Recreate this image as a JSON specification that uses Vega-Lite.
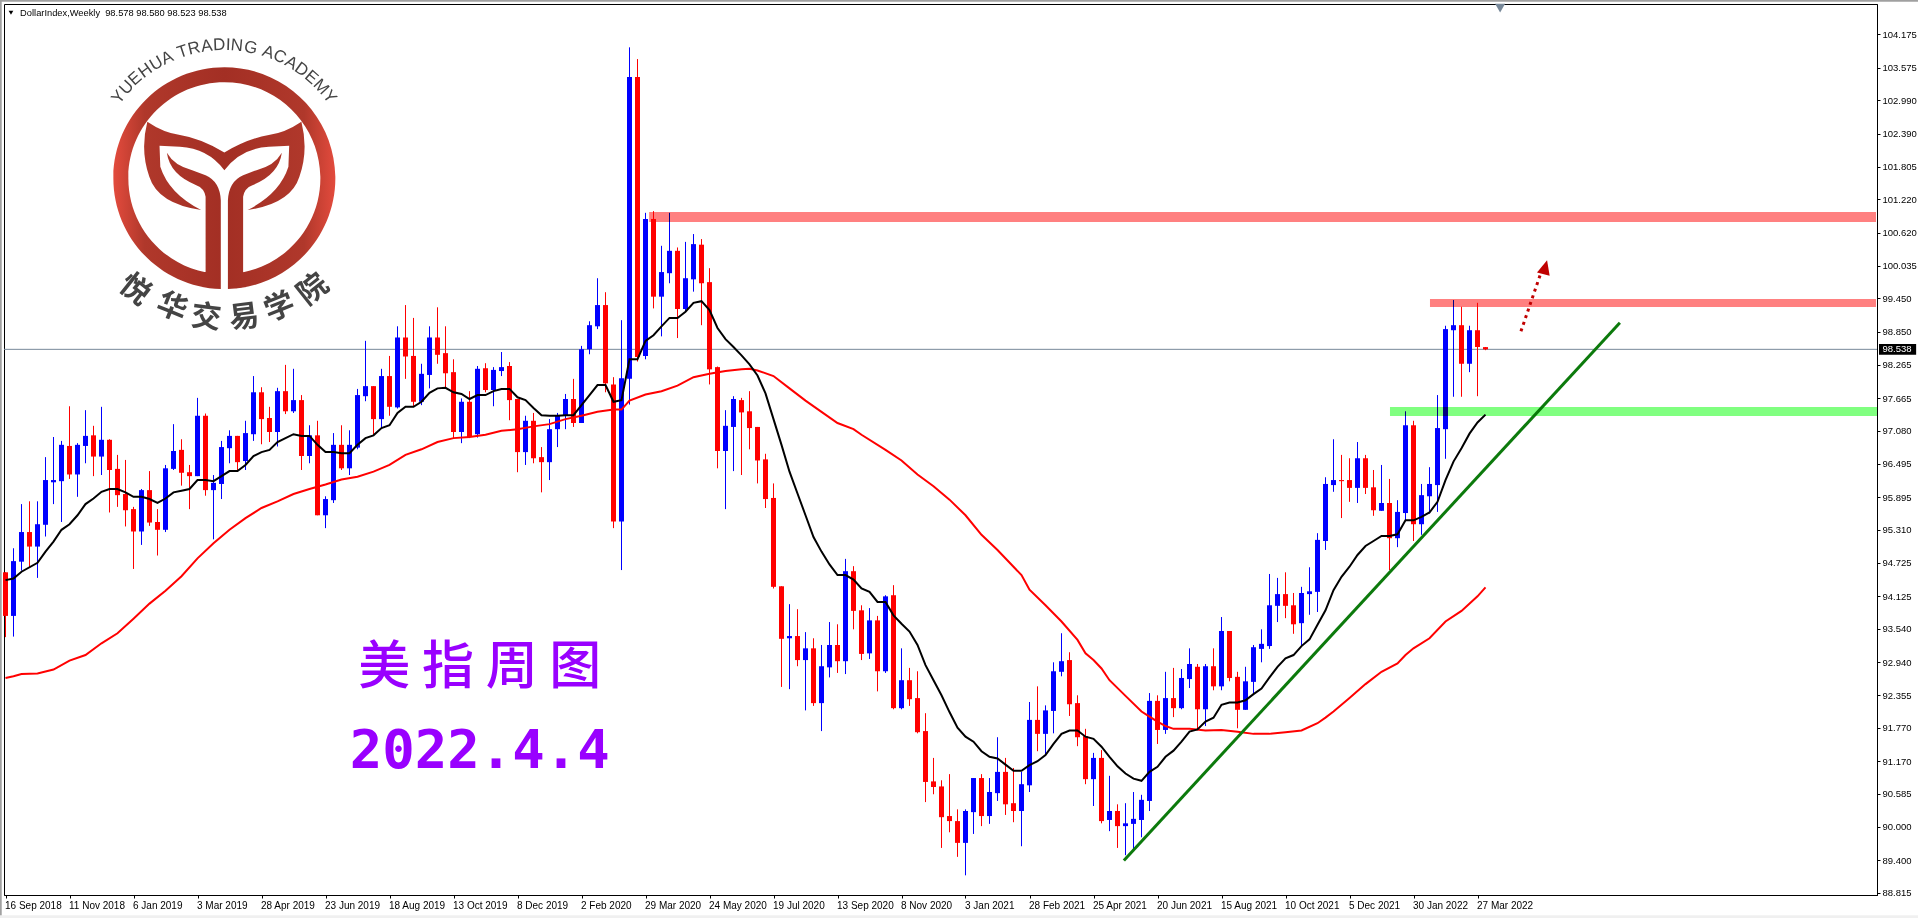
{
  "$schema": "https://vega.github.io/schema/vega-lite/v6.json",
  "autosize": {"type": "none"},
  "padding": {"left": 4, "top": 4, "right": 41, "bottom": 23},
  "width": 1873,
  "height": 891,
  "background": "white",
  "view": {"stroke": "black", "strokeWidth": 1},
  "resolve": {"axis": {"x": "independent", "y": "independent"}},
  "datasets": {
    "candles": [
      {"d":"2018-09-16","o":94.55,"h":94.55,"l":93.39,"c":93.77},
      {"d":"2018-09-23","o":93.77,"h":94.98,"l":93.40,"c":94.75},
      {"d":"2018-09-30","o":94.74,"h":95.77,"l":94.58,"c":95.27},
      {"d":"2018-10-07","o":95.27,"h":95.82,"l":94.64,"c":95.01},
      {"d":"2018-10-14","o":95.01,"h":95.82,"l":94.45,"c":95.41},
      {"d":"2018-10-21","o":95.40,"h":96.61,"l":95.19,"c":96.20},
      {"d":"2018-10-28","o":96.16,"h":96.97,"l":95.77,"c":96.20},
      {"d":"2018-11-04","o":96.18,"h":96.90,"l":95.45,"c":96.83},
      {"d":"2018-11-11","o":96.81,"h":97.52,"l":96.22,"c":96.30},
      {"d":"2018-11-18","o":96.30,"h":96.86,"l":95.90,"c":96.83},
      {"d":"2018-11-25","o":96.81,"h":97.45,"l":96.50,"c":96.99},
      {"d":"2018-12-02","o":97.00,"h":97.17,"l":96.27,"c":96.62},
      {"d":"2018-12-09","o":96.62,"h":97.51,"l":96.29,"c":96.92},
      {"d":"2018-12-16","o":96.92,"h":96.93,"l":95.62,"c":96.38},
      {"d":"2018-12-23","o":96.40,"h":96.65,"l":95.72,"c":95.93},
      {"d":"2018-12-30","o":95.95,"h":96.56,"l":95.37,"c":95.66},
      {"d":"2019-01-06","o":95.68,"h":95.72,"l":94.61,"c":95.28},
      {"d":"2019-01-13","o":95.28,"h":96.04,"l":95.04,"c":96.02},
      {"d":"2019-01-20","o":96.02,"h":96.36,"l":95.38,"c":95.44},
      {"d":"2019-01-27","o":95.45,"h":95.68,"l":94.85,"c":95.31},
      {"d":"2019-02-03","o":95.31,"h":96.47,"l":95.27,"c":96.41},
      {"d":"2019-02-10","o":96.40,"h":97.20,"l":96.38,"c":96.72},
      {"d":"2019-02-17","o":96.74,"h":96.93,"l":96.10,"c":96.33},
      {"d":"2019-02-24","o":96.34,"h":96.47,"l":95.68,"c":96.27},
      {"d":"2019-03-03","o":96.27,"h":97.67,"l":96.27,"c":97.35},
      {"d":"2019-03-10","o":97.35,"h":97.39,"l":95.92,"c":96.02},
      {"d":"2019-03-17","o":96.02,"h":96.29,"l":95.14,"c":96.15},
      {"d":"2019-03-24","o":96.13,"h":96.90,"l":95.86,"c":96.79},
      {"d":"2019-03-31","o":96.77,"h":97.09,"l":96.50,"c":96.99},
      {"d":"2019-04-07","o":96.99,"h":96.99,"l":96.38,"c":96.52},
      {"d":"2019-04-14","o":96.54,"h":97.26,"l":96.38,"c":97.04},
      {"d":"2019-04-21","o":97.02,"h":98.06,"l":96.90,"c":97.77},
      {"d":"2019-04-28","o":97.77,"h":97.86,"l":96.84,"c":97.29},
      {"d":"2019-05-05","o":97.31,"h":97.51,"l":96.88,"c":97.06},
      {"d":"2019-05-12","o":97.06,"h":97.85,"l":96.80,"c":97.79},
      {"d":"2019-05-19","o":97.79,"h":98.26,"l":97.38,"c":97.43},
      {"d":"2019-05-26","o":97.43,"h":98.19,"l":97.40,"c":97.63},
      {"d":"2019-06-02","o":97.63,"h":97.72,"l":96.38,"c":96.63},
      {"d":"2019-06-09","o":96.63,"h":97.18,"l":96.50,"c":97.00},
      {"d":"2019-06-16","o":97.00,"h":97.26,"l":95.57,"c":95.57},
      {"d":"2019-06-23","o":95.57,"h":95.91,"l":95.34,"c":95.86},
      {"d":"2019-06-30","o":95.84,"h":97.04,"l":95.79,"c":96.83},
      {"d":"2019-07-07","o":96.83,"h":97.18,"l":96.38,"c":96.41},
      {"d":"2019-07-14","o":96.41,"h":97.09,"l":96.29,"c":96.83},
      {"d":"2019-07-21","o":96.78,"h":97.83,"l":96.75,"c":97.72},
      {"d":"2019-07-28","o":97.70,"h":98.69,"l":97.61,"c":97.88},
      {"d":"2019-08-04","o":97.88,"h":97.88,"l":97.02,"c":97.29},
      {"d":"2019-08-11","o":97.29,"h":98.19,"l":97.13,"c":98.06},
      {"d":"2019-08-18","o":98.06,"h":98.42,"l":97.35,"c":97.51},
      {"d":"2019-08-25","o":97.50,"h":98.95,"l":97.48,"c":98.75},
      {"d":"2019-09-01","o":98.75,"h":99.33,"l":98.01,"c":98.41},
      {"d":"2019-09-08","o":98.42,"h":99.10,"l":97.51,"c":97.60},
      {"d":"2019-09-15","o":97.60,"h":98.28,"l":97.54,"c":98.10},
      {"d":"2019-09-22","o":98.08,"h":98.95,"l":97.84,"c":98.75},
      {"d":"2019-09-29","o":98.75,"h":99.29,"l":98.28,"c":98.44},
      {"d":"2019-10-06","o":98.47,"h":98.95,"l":97.84,"c":98.11},
      {"d":"2019-10-13","o":98.13,"h":98.36,"l":96.95,"c":97.06},
      {"d":"2019-10-20","o":97.06,"h":97.66,"l":96.86,"c":97.60},
      {"d":"2019-10-27","o":97.60,"h":97.79,"l":96.95,"c":96.97},
      {"d":"2019-11-03","o":97.02,"h":98.24,"l":96.96,"c":98.19},
      {"d":"2019-11-10","o":98.20,"h":98.29,"l":97.77,"c":97.81},
      {"d":"2019-11-17","o":97.81,"h":98.22,"l":97.52,"c":98.17},
      {"d":"2019-11-24","o":98.15,"h":98.49,"l":98.06,"c":98.22},
      {"d":"2019-12-01","o":98.24,"h":98.31,"l":97.27,"c":97.63},
      {"d":"2019-12-08","o":97.65,"h":97.65,"l":96.34,"c":96.70},
      {"d":"2019-12-15","o":96.70,"h":97.35,"l":96.47,"c":97.26},
      {"d":"2019-12-22","o":97.26,"h":97.40,"l":96.50,"c":96.59},
      {"d":"2019-12-29","o":96.61,"h":96.79,"l":95.98,"c":96.52},
      {"d":"2020-01-05","o":96.52,"h":97.29,"l":96.20,"c":97.11},
      {"d":"2020-01-12","o":97.11,"h":97.40,"l":96.79,"c":97.35},
      {"d":"2020-01-19","o":97.36,"h":97.74,"l":97.11,"c":97.65},
      {"d":"2020-01-26","o":97.65,"h":98.01,"l":97.15,"c":97.22},
      {"d":"2020-02-02","o":97.22,"h":98.60,"l":97.22,"c":98.54},
      {"d":"2020-02-09","o":98.54,"h":99.04,"l":98.45,"c":98.97},
      {"d":"2020-02-16","o":98.95,"h":99.81,"l":98.90,"c":99.33},
      {"d":"2020-02-23","o":99.33,"h":99.56,"l":97.77,"c":97.93},
      {"d":"2020-03-01","o":97.91,"h":98.04,"l":95.34,"c":95.46},
      {"d":"2020-03-08","o":95.46,"h":99.06,"l":94.59,"c":98.02},
      {"d":"2020-03-15","o":98.01,"h":103.94,"l":97.55,"c":103.41},
      {"d":"2020-03-22","o":103.41,"h":103.73,"l":98.32,"c":98.40},
      {"d":"2020-03-29","o":98.42,"h":100.98,"l":98.36,"c":100.87},
      {"d":"2020-04-05","o":100.87,"h":101.01,"l":99.27,"c":99.48},
      {"d":"2020-04-12","o":99.48,"h":100.39,"l":98.77,"c":99.92},
      {"d":"2020-04-19","o":99.90,"h":100.98,"l":99.72,"c":100.30},
      {"d":"2020-04-26","o":100.30,"h":100.36,"l":98.74,"c":99.26},
      {"d":"2020-05-03","o":99.26,"h":100.46,"l":99.21,"c":99.81},
      {"d":"2020-05-10","o":99.79,"h":100.60,"l":99.57,"c":100.42},
      {"d":"2020-05-17","o":100.41,"h":100.51,"l":98.97,"c":99.72},
      {"d":"2020-05-24","o":99.74,"h":99.99,"l":97.91,"c":98.18},
      {"d":"2020-05-31","o":98.22,"h":98.23,"l":96.41,"c":96.72},
      {"d":"2020-06-07","o":96.72,"h":97.45,"l":95.68,"c":97.17},
      {"d":"2020-06-14","o":97.15,"h":97.70,"l":96.36,"c":97.65},
      {"d":"2020-06-21","o":97.63,"h":97.67,"l":96.29,"c":97.41},
      {"d":"2020-06-28","o":97.43,"h":97.79,"l":96.75,"c":97.13},
      {"d":"2020-07-05","o":97.15,"h":97.15,"l":96.14,"c":96.55},
      {"d":"2020-07-12","o":96.57,"h":96.67,"l":95.70,"c":95.86},
      {"d":"2020-07-19","o":95.88,"h":96.14,"l":94.26,"c":94.29},
      {"d":"2020-07-26","o":94.30,"h":94.30,"l":92.50,"c":93.36},
      {"d":"2020-08-02","o":93.37,"h":93.98,"l":92.46,"c":93.41},
      {"d":"2020-08-09","o":93.41,"h":93.89,"l":92.87,"c":92.98},
      {"d":"2020-08-16","o":92.98,"h":93.48,"l":92.08,"c":93.19},
      {"d":"2020-08-23","o":93.19,"h":93.37,"l":92.16,"c":92.21},
      {"d":"2020-08-30","o":92.21,"h":93.25,"l":91.71,"c":92.87},
      {"d":"2020-09-06","o":92.85,"h":93.66,"l":92.67,"c":93.25},
      {"d":"2020-09-13","o":93.25,"h":93.62,"l":92.75,"c":92.96},
      {"d":"2020-09-20","o":92.96,"h":94.79,"l":92.73,"c":94.57},
      {"d":"2020-09-27","o":94.57,"h":94.66,"l":93.53,"c":93.86},
      {"d":"2020-10-04","o":93.87,"h":93.96,"l":92.98,"c":93.09},
      {"d":"2020-10-11","o":93.10,"h":93.91,"l":93.00,"c":93.69},
      {"d":"2020-10-18","o":93.69,"h":93.77,"l":92.42,"c":92.78},
      {"d":"2020-10-25","o":92.78,"h":94.14,"l":92.75,"c":94.12},
      {"d":"2020-11-01","o":94.14,"h":94.32,"l":92.10,"c":92.12},
      {"d":"2020-11-08","o":92.12,"h":93.19,"l":92.10,"c":92.62},
      {"d":"2020-11-15","o":92.62,"h":92.84,"l":92.16,"c":92.28},
      {"d":"2020-11-22","o":92.30,"h":92.78,"l":91.67,"c":91.69},
      {"d":"2020-11-29","o":91.71,"h":92.03,"l":90.44,"c":90.80},
      {"d":"2020-12-06","o":90.81,"h":91.23,"l":90.58,"c":90.71},
      {"d":"2020-12-13","o":90.72,"h":90.83,"l":89.62,"c":90.17},
      {"d":"2020-12-20","o":90.19,"h":90.94,"l":89.90,"c":90.10},
      {"d":"2020-12-27","o":90.10,"h":90.31,"l":89.46,"c":89.71},
      {"d":"2021-01-03","o":89.71,"h":90.31,"l":89.13,"c":90.28},
      {"d":"2021-01-10","o":90.26,"h":90.87,"l":89.87,"c":90.87},
      {"d":"2021-01-17","o":90.87,"h":90.94,"l":90.01,"c":90.19},
      {"d":"2021-01-24","o":90.19,"h":90.87,"l":90.05,"c":90.62},
      {"d":"2021-01-31","o":90.60,"h":91.60,"l":90.46,"c":90.98},
      {"d":"2021-02-07","o":90.98,"h":91.23,"l":90.21,"c":90.40},
      {"d":"2021-02-14","o":90.42,"h":91.05,"l":90.08,"c":90.28},
      {"d":"2021-02-21","o":90.28,"h":90.98,"l":89.65,"c":90.76},
      {"d":"2021-02-28","o":90.74,"h":92.23,"l":90.62,"c":91.91},
      {"d":"2021-03-07","o":91.91,"h":92.51,"l":91.35,"c":91.66},
      {"d":"2021-03-14","o":91.66,"h":92.17,"l":91.28,"c":92.08},
      {"d":"2021-03-21","o":92.07,"h":92.94,"l":91.67,"c":92.78},
      {"d":"2021-03-28","o":92.77,"h":93.46,"l":92.69,"c":92.96},
      {"d":"2021-04-04","o":92.98,"h":93.12,"l":91.98,"c":92.19},
      {"d":"2021-04-11","o":92.21,"h":92.35,"l":91.44,"c":91.60},
      {"d":"2021-04-18","o":91.62,"h":91.75,"l":90.76,"c":90.85},
      {"d":"2021-04-25","o":90.85,"h":91.32,"l":90.37,"c":91.23},
      {"d":"2021-05-02","o":91.23,"h":91.37,"l":90.06,"c":90.10},
      {"d":"2021-05-09","o":90.12,"h":90.91,"l":89.92,"c":90.28},
      {"d":"2021-05-16","o":90.28,"h":90.40,"l":89.62,"c":90.01},
      {"d":"2021-05-23","o":90.01,"h":90.42,"l":89.49,"c":90.06},
      {"d":"2021-05-30","o":90.05,"h":90.62,"l":89.58,"c":90.14},
      {"d":"2021-06-06","o":90.12,"h":90.57,"l":89.81,"c":90.48},
      {"d":"2021-06-13","o":90.46,"h":92.39,"l":90.28,"c":92.25},
      {"d":"2021-06-20","o":92.25,"h":92.35,"l":91.48,"c":91.73},
      {"d":"2021-06-27","o":91.73,"h":92.77,"l":91.66,"c":92.30},
      {"d":"2021-07-04","o":92.30,"h":92.84,"l":91.96,"c":92.12},
      {"d":"2021-07-11","o":92.12,"h":92.82,"l":92.10,"c":92.66},
      {"d":"2021-07-18","o":92.64,"h":93.19,"l":92.48,"c":92.91},
      {"d":"2021-07-25","o":92.86,"h":92.91,"l":91.73,"c":92.10},
      {"d":"2021-08-01","o":92.10,"h":92.91,"l":91.80,"c":92.87},
      {"d":"2021-08-08","o":92.87,"h":93.19,"l":92.44,"c":92.51},
      {"d":"2021-08-15","o":92.51,"h":93.75,"l":92.44,"c":93.50},
      {"d":"2021-08-22","o":93.50,"h":93.50,"l":92.60,"c":92.66},
      {"d":"2021-08-29","o":92.68,"h":92.77,"l":91.76,"c":92.09},
      {"d":"2021-09-05","o":92.09,"h":92.86,"l":92.09,"c":92.60},
      {"d":"2021-09-12","o":92.59,"h":93.25,"l":92.39,"c":93.21},
      {"d":"2021-09-19","o":93.18,"h":93.53,"l":92.94,"c":93.27},
      {"d":"2021-09-26","o":93.23,"h":94.52,"l":93.18,"c":93.96},
      {"d":"2021-10-03","o":93.95,"h":94.45,"l":93.66,"c":94.16},
      {"d":"2021-10-10","o":94.16,"h":94.55,"l":93.73,"c":93.95},
      {"d":"2021-10-17","o":93.96,"h":94.18,"l":93.45,"c":93.62},
      {"d":"2021-10-24","o":93.64,"h":94.29,"l":93.23,"c":94.18},
      {"d":"2021-10-31","o":94.16,"h":94.64,"l":93.79,"c":94.21},
      {"d":"2021-11-07","o":94.20,"h":95.25,"l":93.84,"c":95.13},
      {"d":"2021-11-14","o":95.11,"h":96.25,"l":94.95,"c":96.13},
      {"d":"2021-11-21","o":96.11,"h":96.93,"l":95.99,"c":96.20},
      {"d":"2021-11-28","o":96.20,"h":96.65,"l":95.52,"c":96.18},
      {"d":"2021-12-05","o":96.20,"h":96.59,"l":95.81,"c":96.06},
      {"d":"2021-12-12","o":96.06,"h":96.88,"l":95.79,"c":96.59},
      {"d":"2021-12-19","o":96.59,"h":96.65,"l":95.95,"c":96.06},
      {"d":"2021-12-26","o":96.07,"h":96.38,"l":95.56,"c":95.66},
      {"d":"2022-01-02","o":95.65,"h":96.47,"l":95.65,"c":95.79},
      {"d":"2022-01-09","o":95.79,"h":96.22,"l":94.59,"c":95.16},
      {"d":"2022-01-16","o":95.16,"h":95.84,"l":95.00,"c":95.63},
      {"d":"2022-01-23","o":95.61,"h":97.43,"l":95.48,"c":97.18},
      {"d":"2022-01-30","o":97.18,"h":97.26,"l":95.11,"c":95.41},
      {"d":"2022-02-06","o":95.41,"h":96.13,"l":95.22,"c":95.93},
      {"d":"2022-02-13","o":95.91,"h":96.43,"l":95.60,"c":96.13},
      {"d":"2022-02-20","o":96.11,"h":97.72,"l":95.63,"c":97.13},
      {"d":"2022-02-27","o":97.11,"h":98.96,"l":96.58,"c":98.90},
      {"d":"2022-03-06","o":98.88,"h":99.42,"l":97.69,"c":98.97},
      {"d":"2022-03-13","o":98.97,"h":99.30,"l":97.69,"c":98.28},
      {"d":"2022-03-20","o":98.28,"h":98.96,"l":98.13,"c":98.88},
      {"d":"2022-03-27","o":98.88,"h":99.37,"l":97.70,"c":98.58},
      {"d":"2022-04-03","o":98.578,"h":98.580,"l":98.523,"c":98.538}
    ],
    "fast": [
      {"d":"2018-09-16","p":94.41},{"d":"2018-09-23","p":94.44},{"d":"2018-09-30","p":94.56},{"d":"2018-10-14","p":94.72},{"d":"2018-10-21","p":94.92},{"d":"2018-10-28","p":95.10},{"d":"2018-11-04","p":95.31},{"d":"2018-11-11","p":95.41},{"d":"2018-11-18","p":95.57},{"d":"2018-11-25","p":95.77},{"d":"2018-12-02","p":95.87},{"d":"2018-12-09","p":95.99},{"d":"2018-12-16","p":96.04},{"d":"2018-12-23","p":96.04},{"d":"2018-12-30","p":95.98},{"d":"2019-01-06","p":95.90},{"d":"2019-01-13","p":95.90},{"d":"2019-01-20","p":95.86},{"d":"2019-01-27","p":95.79},{"d":"2019-02-03","p":95.87},{"d":"2019-02-10","p":95.98},{"d":"2019-02-17","p":96.01},{"d":"2019-02-24","p":96.04},{"d":"2019-03-03","p":96.20},{"d":"2019-03-10","p":96.20},{"d":"2019-03-17","p":96.18},{"d":"2019-03-24","p":96.27},{"d":"2019-03-31","p":96.36},{"d":"2019-04-07","p":96.36},{"d":"2019-04-14","p":96.47},{"d":"2019-04-21","p":96.63},{"d":"2019-04-28","p":96.70},{"d":"2019-05-05","p":96.74},{"d":"2019-05-12","p":96.88},{"d":"2019-05-19","p":96.95},{"d":"2019-05-26","p":97.02},{"d":"2019-06-02","p":96.99},{"d":"2019-06-09","p":96.99},{"d":"2019-06-16","p":96.83},{"d":"2019-06-23","p":96.70},{"d":"2019-06-30","p":96.70},{"d":"2019-07-07","p":96.68},{"d":"2019-07-14","p":96.68},{"d":"2019-07-21","p":96.83},{"d":"2019-07-28","p":96.95},{"d":"2019-08-04","p":97.00},{"d":"2019-08-11","p":97.13},{"d":"2019-08-18","p":97.18},{"d":"2019-08-25","p":97.40},{"d":"2019-09-01","p":97.51},{"d":"2019-09-08","p":97.51},{"d":"2019-09-15","p":97.60},{"d":"2019-09-22","p":97.76},{"d":"2019-09-29","p":97.84},{"d":"2019-10-06","p":97.85},{"d":"2019-10-13","p":97.77},{"d":"2019-10-20","p":97.74},{"d":"2019-10-27","p":97.65},{"d":"2019-11-03","p":97.72},{"d":"2019-11-10","p":97.72},{"d":"2019-11-17","p":97.79},{"d":"2019-11-24","p":97.83},{"d":"2019-12-01","p":97.83},{"d":"2019-12-08","p":97.68},{"d":"2019-12-15","p":97.63},{"d":"2019-12-22","p":97.49},{"d":"2019-12-29","p":97.36},{"d":"2020-01-05","p":97.35},{"d":"2020-01-12","p":97.35},{"d":"2020-01-19","p":97.36},{"d":"2020-01-26","p":97.36},{"d":"2020-02-02","p":97.54},{"d":"2020-02-09","p":97.72},{"d":"2020-02-16","p":97.90},{"d":"2020-02-23","p":97.90},{"d":"2020-03-01","p":97.60},{"d":"2020-03-08","p":97.63},{"d":"2020-03-15","p":98.36},{"d":"2020-03-22","p":98.36},{"d":"2020-03-29","p":98.69},{"d":"2020-04-05","p":98.79},{"d":"2020-04-12","p":98.95},{"d":"2020-04-19","p":99.10},{"d":"2020-04-26","p":99.10},{"d":"2020-05-03","p":99.21},{"d":"2020-05-10","p":99.37},{"d":"2020-05-17","p":99.40},{"d":"2020-05-24","p":99.24},{"d":"2020-05-31","p":98.92},{"d":"2020-06-07","p":98.72},{"d":"2020-06-14","p":98.58},{"d":"2020-06-21","p":98.43},{"d":"2020-06-28","p":98.27},{"d":"2020-07-05","p":98.07},{"d":"2020-07-12","p":97.75},{"d":"2020-07-19","p":97.29},{"d":"2020-07-26","p":96.83},{"d":"2020-08-02","p":96.35},{"d":"2020-08-09","p":95.96},{"d":"2020-08-16","p":95.57},{"d":"2020-08-23","p":95.18},{"d":"2020-08-30","p":94.92},{"d":"2020-09-06","p":94.69},{"d":"2020-09-13","p":94.50},{"d":"2020-09-20","p":94.50},{"d":"2020-09-27","p":94.42},{"d":"2020-10-04","p":94.26},{"d":"2020-10-11","p":94.20},{"d":"2020-10-18","p":94.02},{"d":"2020-10-25","p":94.02},{"d":"2020-11-01","p":93.78},{"d":"2020-11-08","p":93.63},{"d":"2020-11-15","p":93.49},{"d":"2020-11-22","p":93.25},{"d":"2020-11-29","p":92.89},{"d":"2020-12-06","p":92.62},{"d":"2020-12-13","p":92.35},{"d":"2020-12-20","p":92.05},{"d":"2020-12-27","p":91.77},{"d":"2021-01-03","p":91.61},{"d":"2021-01-10","p":91.52},{"d":"2021-01-17","p":91.35},{"d":"2021-01-24","p":91.25},{"d":"2021-01-31","p":91.22},{"d":"2021-02-07","p":91.11},{"d":"2021-02-14","p":91.00},{"d":"2021-02-21","p":91.00},{"d":"2021-02-28","p":91.10},{"d":"2021-03-07","p":91.17},{"d":"2021-03-14","p":91.28},{"d":"2021-03-21","p":91.48},{"d":"2021-03-28","p":91.66},{"d":"2021-04-04","p":91.72},{"d":"2021-04-11","p":91.72},{"d":"2021-04-18","p":91.61},{"d":"2021-04-25","p":91.57},{"d":"2021-05-02","p":91.43},{"d":"2021-05-09","p":91.25},{"d":"2021-05-16","p":91.08},{"d":"2021-05-23","p":90.95},{"d":"2021-05-30","p":90.86},{"d":"2021-06-06","p":90.82},{"d":"2021-06-13","p":90.98},{"d":"2021-06-20","p":91.07},{"d":"2021-06-27","p":91.25},{"d":"2021-07-04","p":91.36},{"d":"2021-07-11","p":91.52},{"d":"2021-07-18","p":91.70},{"d":"2021-07-25","p":91.74},{"d":"2021-08-01","p":91.88},{"d":"2021-08-08","p":91.95},{"d":"2021-08-15","p":92.18},{"d":"2021-08-22","p":92.22},{"d":"2021-08-29","p":92.22},{"d":"2021-09-05","p":92.26},{"d":"2021-09-12","p":92.37},{"d":"2021-09-19","p":92.47},{"d":"2021-09-26","p":92.67},{"d":"2021-10-03","p":92.86},{"d":"2021-10-10","p":93.01},{"d":"2021-10-17","p":93.07},{"d":"2021-10-24","p":93.23},{"d":"2021-10-31","p":93.35},{"d":"2021-11-07","p":93.61},{"d":"2021-11-14","p":93.87},{"d":"2021-11-21","p":94.23},{"d":"2021-11-28","p":94.47},{"d":"2021-12-05","p":94.65},{"d":"2021-12-12","p":94.86},{"d":"2021-12-19","p":95.02},{"d":"2021-12-26","p":95.11},{"d":"2022-01-02","p":95.20},{"d":"2022-01-09","p":95.20},{"d":"2022-01-16","p":95.23},{"d":"2022-01-23","p":95.48},{"d":"2022-01-30","p":95.48},{"d":"2022-02-06","p":95.54},{"d":"2022-02-13","p":95.62},{"d":"2022-02-20","p":95.81},{"d":"2022-02-27","p":96.20},{"d":"2022-03-06","p":96.53},{"d":"2022-03-13","p":96.77},{"d":"2022-03-20","p":97.03},{"d":"2022-03-27","p":97.23},{"d":"2022-04-03","p":97.37}
    ],
    "slow": [
      {"d":"2018-09-16","p":92.66},{"d":"2018-09-23","p":92.69},{"d":"2018-09-30","p":92.73},{"d":"2018-10-14","p":92.74},{"d":"2018-10-28","p":92.81},{"d":"2018-11-11","p":92.97},{"d":"2018-11-25","p":93.07},{"d":"2018-12-09","p":93.28},{"d":"2018-12-23","p":93.46},{"d":"2019-01-06","p":93.72},{"d":"2019-01-20","p":93.99},{"d":"2019-02-03","p":94.22},{"d":"2019-02-17","p":94.48},{"d":"2019-03-03","p":94.80},{"d":"2019-03-17","p":95.07},{"d":"2019-03-31","p":95.31},{"d":"2019-04-14","p":95.52},{"d":"2019-04-28","p":95.70},{"d":"2019-05-12","p":95.82},{"d":"2019-05-26","p":95.95},{"d":"2019-06-09","p":96.04},{"d":"2019-06-23","p":96.12},{"d":"2019-07-07","p":96.21},{"d":"2019-07-21","p":96.26},{"d":"2019-08-04","p":96.35},{"d":"2019-08-18","p":96.47},{"d":"2019-09-01","p":96.65},{"d":"2019-09-15","p":96.75},{"d":"2019-09-29","p":96.88},{"d":"2019-10-13","p":96.95},{"d":"2019-10-27","p":96.97},{"d":"2019-11-10","p":97.01},{"d":"2019-11-24","p":97.08},{"d":"2019-12-08","p":97.11},{"d":"2019-12-22","p":97.16},{"d":"2020-01-05","p":97.20},{"d":"2020-01-19","p":97.29},{"d":"2020-02-02","p":97.35},{"d":"2020-02-16","p":97.42},{"d":"2020-03-01","p":97.46},{"d":"2020-03-08","p":97.46},{"d":"2020-03-15","p":97.62},{"d":"2020-03-29","p":97.73},{"d":"2020-04-12","p":97.79},{"d":"2020-04-26","p":97.89},{"d":"2020-05-10","p":98.04},{"d":"2020-05-24","p":98.10},{"d":"2020-06-07","p":98.15},{"d":"2020-06-21","p":98.18},{"d":"2020-06-28","p":98.19},{"d":"2020-07-05","p":98.16},{"d":"2020-07-19","p":98.06},{"d":"2020-08-02","p":97.84},{"d":"2020-08-16","p":97.62},{"d":"2020-08-30","p":97.42},{"d":"2020-09-13","p":97.22},{"d":"2020-09-27","p":97.11},{"d":"2020-10-04","p":97.01},{"d":"2020-10-25","p":96.74},{"d":"2020-11-08","p":96.55},{"d":"2020-11-22","p":96.30},{"d":"2020-12-06","p":96.09},{"d":"2020-12-20","p":95.85},{"d":"2021-01-03","p":95.57},{"d":"2021-01-17","p":95.22},{"d":"2021-01-31","p":94.95},{"d":"2021-02-14","p":94.65},{"d":"2021-02-21","p":94.50},{"d":"2021-02-28","p":94.24},{"d":"2021-03-14","p":93.96},{"d":"2021-03-28","p":93.67},{"d":"2021-04-11","p":93.34},{"d":"2021-04-18","p":93.10},{"d":"2021-04-25","p":92.98},{"d":"2021-05-02","p":92.83},{"d":"2021-05-09","p":92.62},{"d":"2021-05-23","p":92.34},{"d":"2021-06-06","p":92.06},{"d":"2021-06-13","p":91.97},{"d":"2021-06-20","p":91.88},{"d":"2021-06-27","p":91.80},{"d":"2021-07-04","p":91.75},{"d":"2021-07-18","p":91.75},{"d":"2021-08-01","p":91.72},{"d":"2021-08-15","p":91.73},{"d":"2021-08-29","p":91.70},{"d":"2021-09-12","p":91.66},{"d":"2021-09-26","p":91.66},{"d":"2021-10-10","p":91.69},{"d":"2021-10-24","p":91.72},{"d":"2021-11-07","p":91.85},{"d":"2021-11-14","p":91.95},{"d":"2021-11-21","p":92.06},{"d":"2021-12-05","p":92.30},{"d":"2021-12-19","p":92.55},{"d":"2022-01-02","p":92.77},{"d":"2022-01-16","p":92.92},{"d":"2022-01-23","p":93.07},{"d":"2022-01-30","p":93.19},{"d":"2022-02-13","p":93.37},{"d":"2022-02-27","p":93.67},{"d":"2022-03-13","p":93.86},{"d":"2022-03-27","p":94.12},{"d":"2022-04-03","p":94.28}
    ],
    "zones": [
      {"d":"2020-04-01T05:00:00Z","d2":"2023-03-10T16:30:00Z","p":100.994,"p2":100.815,"zone":"resistance"},
      {"d":"2022-02-13T10:00:00Z","d2":"2023-03-10T16:30:00Z","p":99.438,"p2":99.295,"zone":"resistance"},
      {"d":"2022-01-09T10:00:00Z","d2":"2023-03-11T13:30:00Z","p":97.506,"p2":97.345,"zone":"support"}
    ],
    "trend": [
      {"d":"2021-05-21T14:00:00Z","p":89.396},
      {"d":"2022-07-29T14:00:00Z","p":99.014}
    ],
    "arrow": [
      {"d":"2022-05-04T00:00:00Z","p":98.86},
      {"d":"2022-05-21T17:00:00Z","p":99.92}
    ],
    "frame": [
      {"d":"2018-09-11T04:48:00Z","d2":"2023-04-16T10:00:00Z","p":104.787,"p2":104.757,"part":"window"},
      {"d":"2018-09-11T04:48:00Z","d2":"2018-09-12T16:48:00Z","p":104.787,"p2":88.364,"part":"window"},
      {"d":"2018-09-11T04:48:00Z","d2":"2023-04-16T10:00:00Z","p":88.418,"p2":88.364,"part":"status"}
    ],
    "logoTop": [
      {"t":"Y","d":"2018-12-24","p":103.05,"rot":-52.6},
      {"t":"U","d":"2018-12-31","p":103.22,"rot":-47.2},
      {"t":"E","d":"2019-01-07T12:00:00Z","p":103.38,"rot":-41.8},
      {"t":"H","d":"2019-01-16T12:00:00Z","p":103.52,"rot":-36.4},
      {"t":"U","d":"2019-01-26","p":103.65,"rot":-30.7},
      {"t":"A","d":"2019-02-04T12:00:00Z","p":103.75,"rot":-25.3},
      {"t":"T","d":"2019-02-18","p":103.86,"rot":-18.2},
      {"t":"R","d":"2019-02-28","p":103.92,"rot":-13},
      {"t":"A","d":"2019-03-11","p":103.96,"rot":-7.6},
      {"t":"D","d":"2019-03-22","p":103.98,"rot":-2.2},
      {"t":"I","d":"2019-03-30","p":103.98,"rot":1.7},
      {"t":"N","d":"2019-04-06T12:00:00Z","p":103.97,"rot":5.6},
      {"t":"G","d":"2019-04-18T12:00:00Z","p":103.93,"rot":11.5},
      {"t":"A","d":"2019-05-04","p":103.85,"rot":19.3},
      {"t":"C","d":"2019-05-14","p":103.77,"rot":24.7},
      {"t":"A","d":"2019-05-24","p":103.66,"rot":30.1},
      {"t":"D","d":"2019-06-02","p":103.54,"rot":35.5},
      {"t":"E","d":"2019-06-10T12:00:00Z","p":103.40,"rot":40.9},
      {"t":"M","d":"2019-06-19","p":103.23,"rot":46.8},
      {"t":"Y","d":"2019-06-26T12:00:00Z","p":103.05,"rot":52.6}
    ],
    "logoBottom": [
      {"t":"悦","d":"2019-01-07","p":99.60,"rot":38.5},
      {"t":"华","d":"2019-02-08T12:00:00Z","p":99.28,"rot":22},
      {"t":"交","d":"2019-03-10T12:00:00Z","p":99.10,"rot":7.3},
      {"t":"易","d":"2019-04-13","p":99.10,"rot":-7.3},
      {"t":"学","d":"2019-05-14","p":99.28,"rot":-22},
      {"t":"院","d":"2019-06-12T12:00:00Z","p":99.60,"rot":-38.5}
    ]
  },
  "layer": [
    {
      "data": {"values": [{"p": 98.538}]},
      "mark": {"type": "rule", "color": "#778899", "strokeWidth": 1},
      "encoding": {"y": {"field": "p", "type": "quantitative", "axis": null}}
    },
    {
      "data": {"name": "candles"},
      "mark": {"type": "rule", "strokeWidth": 1},
      "encoding": {
        "x": {
          "field": "d",
          "type": "temporal",
          "title": null,
          "scale": {"type": "utc", "domain": ["2018-09-14T16:30:00Z", "2023-03-11T13:30:00Z"], "nice": false, "padding": 0},
          "axis": {
            "orient": "bottom",
            "grid": false,
            "values": ["2018-09-16","2018-11-11","2019-01-06","2019-03-03","2019-04-28","2019-06-23","2019-08-18","2019-10-13","2019-12-08","2020-02-02","2020-03-29","2020-05-24","2020-07-19","2020-09-13","2020-11-08","2021-01-03","2021-02-28","2021-04-25","2021-06-20","2021-08-15","2021-10-10","2021-12-05","2022-01-30","2022-03-27"],
            "format": "%-d %b %Y",
            "formatType": "utc",
            "labelExpr": "utcFormat(datum.value, '%-d %b %Y')",
            "labelAlign": "left",
            "labelBaseline": "top",
            "labelOverlap": false,
            "labelFlush": false,
            "labelBound": false,
            "labelFont": "Liberation Sans",
            "labelFontSize": 10,
            "labelColor": "black",
            "labelPadding": 2,
            "labelOffset": -1,
            "tickSize": 3,
            "tickColor": "black",
            "domainColor": "black"
          }
        },
        "y": {
          "field": "h",
          "type": "quantitative",
          "title": null,
          "scale": {"domain": [88.778, 104.715], "nice": false, "zero": false},
          "axis": {
            "orient": "right",
            "grid": false,
            "values": [104.175,103.575,102.99,102.39,101.805,101.22,100.62,100.035,99.45,98.85,98.265,97.665,97.08,96.495,95.895,95.31,94.725,94.125,93.54,92.94,92.355,91.77,91.17,90.585,90,89.4,88.815],
            "format": ".3f",
            "labelFont": "Liberation Sans",
            "labelFontSize": 9.5,
            "labelColor": "black",
            "labelPadding": 2,
            "labelOverlap": false,
            "labelBound": false,
            "labelFlush": false,
            "tickSize": 3,
            "tickColor": "black",
            "domainColor": "black"
          }
        },
        "y2": {"field": "l"},
        "color": {"condition": {"test": "datum.c >= datum.o", "value": "#0000ff"}, "value": "#ff0000"}
      }
    },
    {
      "data": {"name": "candles"},
      "mark": {"type": "bar", "size": 5, "orient": "vertical"},
      "encoding": {
        "x": {"field": "d", "type": "temporal", "axis": null},
        "y": {"field": "o", "type": "quantitative", "axis": null},
        "y2": {"field": "c"},
        "color": {"condition": {"test": "datum.c >= datum.o", "value": "#0000ff"}, "value": "#ff0000"}
      }
    },
    {
      "data": {"name": "slow"},
      "mark": {"type": "line", "color": "#ff0000", "strokeWidth": 2},
      "encoding": {"x": {"field": "d", "type": "temporal", "axis": null}, "y": {"field": "p", "type": "quantitative", "axis": null}}
    },
    {
      "data": {"name": "fast"},
      "mark": {"type": "line", "color": "#000000", "strokeWidth": 2},
      "encoding": {"x": {"field": "d", "type": "temporal", "axis": null}, "y": {"field": "p", "type": "quantitative", "axis": null}}
    },
    {
      "data": {"name": "trend"},
      "mark": {"type": "line", "color": "#0c7a0c", "strokeWidth": 3},
      "encoding": {"x": {"field": "d", "type": "temporal", "axis": null}, "y": {"field": "p", "type": "quantitative", "axis": null}}
    },
    {
      "data": {"name": "zones"},
      "mark": {"type": "rect", "blend": "multiply"},
      "encoding": {
        "x": {"field": "d", "type": "temporal", "axis": null},
        "x2": {"field": "d2"},
        "y": {"field": "p", "type": "quantitative", "axis": null},
        "y2": {"field": "p2"},
        "color": {"field": "zone", "type": "nominal", "legend": null, "scale": {"domain": ["resistance", "support"], "range": ["#ff8080", "#80ff80"]}}
      }
    },
    {
      "data": {"name": "frame"},
      "mark": {"type": "rect"},
      "encoding": {
        "x": {"field": "d", "type": "temporal", "axis": null},
        "x2": {"field": "d2"},
        "y": {"field": "p", "type": "quantitative", "axis": null},
        "y2": {"field": "p2"},
        "fill": {"field": "part", "type": "nominal", "legend": null, "scale": {"domain": ["window", "status"], "range": ["#a0a0a0", "#f0f0f0"]}}
      }
    },
    {
      "data": {"name": "arrow"},
      "mark": {"type": "line", "color": "#c00000", "strokeWidth": 3, "strokeDash": [3, 4]},
      "encoding": {"x": {"field": "d", "type": "temporal", "axis": null}, "y": {"field": "p", "type": "quantitative", "axis": null}}
    },
    {
      "data": {"values": [{"d": "2022-05-25T00:00:00Z", "p": 99.99}]},
      "mark": {"type": "point", "shape": "M 0 -1.2 L 0.95 0.9 L -0.95 0.9 Z", "filled": true, "color": "#c00000", "opacity": 1, "size": 190, "angle": 15},
      "encoding": {"x": {"field": "d", "type": "temporal", "axis": null}, "y": {"field": "p", "type": "quantitative", "axis": null}}
    },
    {
      "data": {"values": [{"d": "2022-04-15T19:00:00Z", "p": 104.64}]},
      "mark": {"type": "point", "shape": "triangle-down", "filled": true, "color": "#778899", "opacity": 1, "size": 100},
      "encoding": {"x": {"field": "d", "type": "temporal", "axis": null}, "y": {"field": "p", "type": "quantitative", "axis": null}}
    },
    {
      "data": {"values": [{"d": "2018-09-20T19:00:00Z", "p": 104.56}]},
      "mark": {"type": "point", "shape": "triangle-down", "filled": true, "color": "#000000", "opacity": 1, "size": 22},
      "encoding": {"x": {"field": "d", "type": "temporal", "axis": null}, "y": {"field": "p", "type": "quantitative", "axis": null}}
    },
    {
      "data": {"values": [{"d": "2018-09-28T19:00:00Z", "p": 104.56, "t": "DollarIndex,Weekly\u00a0\u00a098.578 98.580 98.523 98.538"}]},
      "mark": {"type": "text", "align": "left", "baseline": "middle", "font": "Liberation Sans", "fontSize": 9.3, "color": "#000000"},
      "encoding": {"x": {"field": "d", "type": "temporal", "axis": null}, "y": {"field": "p", "type": "quantitative", "axis": null}, "text": {"field": "t"}}
    },
    {
      "data": {"values": [{"d": "2023-03-13T07:30:00Z", "d2": "2023-04-14T19:30:00Z", "p": 98.635, "p2": 98.44}]},
      "mark": {"type": "rect", "color": "#000000", "clip": false},
      "encoding": {"x": {"field": "d", "type": "temporal", "axis": null}, "x2": {"field": "d2"}, "y": {"field": "p", "type": "quantitative", "axis": null}, "y2": {"field": "p2"}}
    },
    {
      "data": {"values": [{"d": "2023-03-29T01:30:00Z", "p": 98.538, "t": "98.538"}]},
      "mark": {"type": "text", "align": "center", "baseline": "middle", "font": "Liberation Sans", "fontSize": 9.5, "color": "#ffffff"},
      "encoding": {"x": {"field": "d", "type": "temporal", "axis": null}, "y": {"field": "p", "type": "quantitative", "axis": null}, "text": {"field": "t"}}
    },
    {
      "data": {"values": [{"d": "2019-03-26T12:00:00Z", "p": 101.60}]},
      "mark": {
        "type": "point",
        "filled": true,
        "opacity": 1,
        "size": 49284,
        "fill": {"x1": 0, "y1": 0, "x2": 1, "y2": 0, "gradient": "linear", "stops": [{"offset": 0, "color": "#e34b3d"}, {"offset": 0.14, "color": "#b0382b"}, {"offset": 0.5, "color": "#a32f24"}, {"offset": 0.86, "color": "#b0382b"}, {"offset": 1, "color": "#e34b3d"}]},
        "shape": "M -0.032 0.9995 A 1 1 0 1 1 0.032 0.9995 L 0.032 0.8645 A 0.865 0.865 0 1 0 -0.032 0.8645 Z M -0.694 -0.508 Q -0.55 -0.41 -0.4 -0.388 Q -0.22 -0.36 0 -0.232 Q 0.22 -0.36 0.4 -0.388 Q 0.55 -0.41 0.694 -0.508 Q 0.76 -0.25 0.676 -0.012 Q 0.6 0.23 0.209 0.288 Q 0.5 0.14 0.577 -0.102 L 0.584 -0.292 L 0.4 -0.283 Q 0.15 -0.27 0 -0.072 Q -0.15 -0.27 -0.4 -0.283 L -0.584 -0.292 L -0.577 -0.102 Q -0.5 0.14 -0.209 0.288 Q -0.6 0.23 -0.676 -0.012 Q -0.76 -0.25 -0.694 -0.508 Z M -0.518 -0.228 Q -0.45 -0.11 -0.29 -0.072 L -0.169 -0.027 Q -0.04 0.03 -0.032 0.198 L -0.032 0.918 Q -0.04 0.99 -0.106 0.994 L -0.2 0.98 L -0.169 0.844 L -0.169 0.168 Q -0.18 0.09 -0.253 0.063 Q -0.49 -0.03 -0.518 -0.228 Z M 0.518 -0.228 Q 0.49 -0.03 0.253 0.063 Q 0.18 0.09 0.169 0.168 L 0.169 0.844 L 0.2 0.98 L 0.106 0.994 Q 0.04 0.99 0.032 0.918 L 0.032 0.198 Q 0.04 0.03 0.169 -0.027 L 0.29 -0.072 Q 0.45 -0.11 0.518 -0.228 Z"
      },
      "encoding": {"x": {"field": "d", "type": "temporal", "axis": null}, "y": {"field": "p", "type": "quantitative", "axis": null}}
    },
    {
      "data": {"name": "logoTop"},
      "mark": {"type": "text", "align": "center", "baseline": "middle", "font": "Liberation Sans", "fontSize": 17, "color": "#444444"},
      "encoding": {"x": {"field": "d", "type": "temporal", "axis": null}, "y": {"field": "p", "type": "quantitative", "axis": null}, "text": {"field": "t"}, "angle": {"field": "rot", "type": "quantitative", "scale": null}}
    },
    {
      "data": {"name": "logoBottom"},
      "mark": {"type": "text", "align": "center", "baseline": "middle", "font": "Noto Sans CJK SC", "fontSize": 30, "fontWeight": "bold", "color": "#444444"},
      "encoding": {"x": {"field": "d", "type": "temporal", "axis": null}, "y": {"field": "p", "type": "quantitative", "axis": null}, "text": {"field": "t"}, "angle": {"field": "rot", "type": "quantitative", "scale": null}}
    },
    {
      "data": {"values": [{"d": "2019-11-05", "p": 92.84, "t": "美 指 周 图"}]},
      "mark": {"type": "text", "align": "center", "baseline": "middle", "font": "Noto Sans CJK SC", "fontSize": 52, "fontWeight": 500, "color": "#9900ff"},
      "encoding": {"x": {"field": "d", "type": "temporal", "axis": null}, "y": {"field": "p", "type": "quantitative", "axis": null}, "text": {"field": "t"}}
    },
    {
      "data": {"values": [{"d": "2019-11-05", "p": 91.33, "t": "2022.4.4"}]},
      "mark": {"type": "text", "align": "center", "baseline": "middle", "font": "DejaVu Sans Mono", "fontSize": 54, "fontWeight": "bold", "color": "#9900ff"},
      "encoding": {"x": {"field": "d", "type": "temporal", "axis": null}, "y": {"field": "p", "type": "quantitative", "axis": null}, "text": {"field": "t"}}
    }
  ]
}
